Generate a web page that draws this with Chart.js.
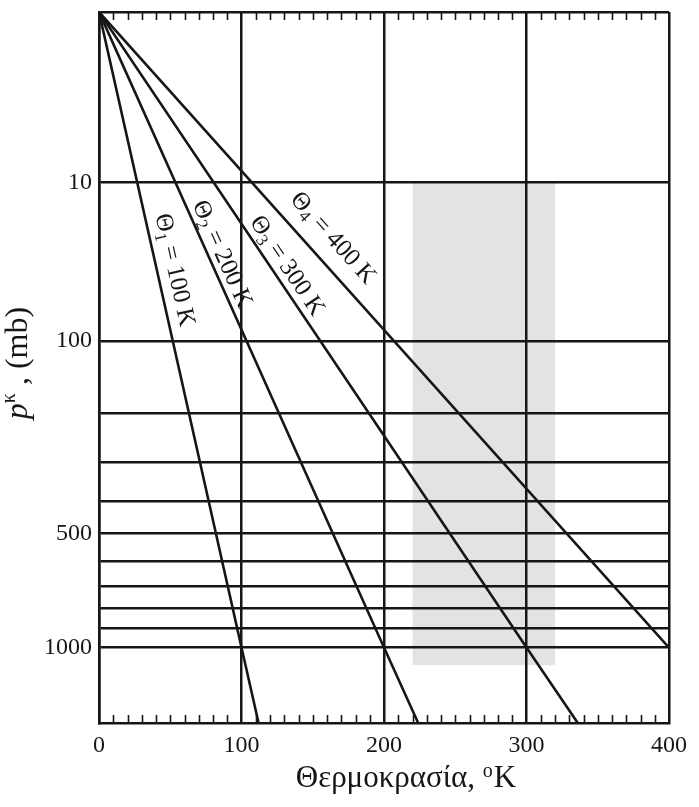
<!DOCTYPE html>
<html><head><meta charset="utf-8">
<script src="https://cdn.jsdelivr.net/npm/chart.js@4/dist/chart.umd.min.js"></script>
<style>html,body{margin:0;padding:0;background:#fff;}canvas{display:block;}</style>
</head><body>
<canvas id="c" width="699" height="807"></canvas>
<script>
// ---- data ----
const KAPPA = 0.286;                       // y axis is linear in p^kappa
const thetas = [100, 200, 300, 400];       // potential temperature of each line (K)
const lineSubs = ['1', '2', '3', '4'];
const topPressure = 0;                     // all lines start at T = 0, p = 0
const refPressure = 1000;                  // at 1000 mb, T = theta
const bottomPressure = 1480;               // lower edge of the diagram (mb)
const tempsAtBottom = [112, 224, 336, null]; // where lines leave the lower edge (K)
const xTickValues = [0, 100, 200, 300, 400];
const yTickPressures = [0, 10, 100, 200, 300, 400, 500, 600, 700, 800, 900, 1000];
const yTickLabels = ['', '10', '100', '', '', '', '500', '', '', '', '', '1000'];
const shadeTemps = [220, 320];             // grey band (K)
const shadePressures = [10, 1100];         // grey band (mb)
const labelPressures = [45, 37, 45, 34];   // where each line label sits along its line
const labelOffsets = [17, 13, 14, 23];     // distance of label from its line (px)
const xTitle = 'Θερμοκρασία, ';
const xTitleSup = 'o';
const xTitleEnd = 'K';

const pk = p => Math.pow(p, KAPPA);
const INK = '#161616';
const SERIF = '"Liberation Serif", "Times New Roman", serif';

const datasets = thetas.map((th, i) => {
  const pts = [{x: 0, y: pk(topPressure)}, {x: th, y: pk(refPressure)}];
  if (tempsAtBottom[i] !== null) pts.push({x: tempsAtBottom[i], y: pk(bottomPressure)});
  return {data: pts, borderColor: INK, borderWidth: 2.6, pointRadius: 0, fill: false, tension: 0};
});

const decor = {
  id: 'decor',
  beforeDraw(chart) {
    const {ctx, scales: {x, y}} = chart;
    const x0 = x.getPixelForValue(shadeTemps[0]), x1 = x.getPixelForValue(shadeTemps[1]);
    const y0 = y.getPixelForValue(pk(shadePressures[0])), y1 = y.getPixelForValue(pk(shadePressures[1]));
    ctx.save();
    ctx.fillStyle = '#e3e3e3';
    ctx.fillRect(x0, y0, x1 - x0, y1 - y0);
    ctx.restore();
  },
  afterDatasetsDraw(chart) {
    const {ctx, chartArea: ca, scales: {x, y}} = chart;
    ctx.save();
    // minor ticks every 10 K, top and bottom, pointing inward
    ctx.strokeStyle = INK; ctx.lineWidth = 1.6;
    for (let v = 10; v < 400; v += 10) {
      if (v % 100 === 0) continue;
      const px = Math.round(x.getPixelForValue(v)) + 0.5;
      ctx.beginPath();
      ctx.moveTo(px, ca.bottom); ctx.lineTo(px, ca.bottom - 8);
      ctx.moveTo(px, ca.top); ctx.lineTo(px, ca.top + 8);
      ctx.stroke();
    }
    // line labels
    ctx.fillStyle = INK;
    thetas.forEach((th, i) => {
      const ax = x.getPixelForValue(0), ay = y.getPixelForValue(pk(topPressure));
      const bx = x.getPixelForValue(th), by = y.getPixelForValue(pk(refPressure));
      const ang = Math.atan2(by - ay, bx - ax);
      const fy = y.getPixelForValue(pk(labelPressures[i]));
      const fx = ax + (fy - ay) / (by - ay) * (bx - ax);
      const cx = fx + labelOffsets[i] * Math.sin(ang);
      const cy = fy - labelOffsets[i] * Math.cos(ang);
      const parts = [
        {t: 'Θ', f: '25px ' + SERIF, dy: 0},
        {t: lineSubs[i], f: '17px ' + SERIF, dy: 7},
        {t: ' = ' + th + ' K', f: '25px ' + SERIF, dy: 0}
      ];
      let w = 0;
      parts.forEach(p => { ctx.font = p.f; p.w = ctx.measureText(p.t).width; w += p.w; });
      ctx.save();
      ctx.translate(cx, cy); ctx.rotate(ang);
      ctx.textBaseline = 'middle'; ctx.textAlign = 'left';
      let xx = -w / 2;
      parts.forEach(p => { ctx.font = p.f; ctx.fillText(p.t, xx, p.dy); xx += p.w; });
      ctx.restore();
    });
    // x axis title
    ctx.textBaseline = 'alphabetic'; ctx.textAlign = 'left';
    const f1 = '31px ' + SERIF, f2 = '20px ' + SERIF;
    ctx.font = f1; const w1 = ctx.measureText(xTitle).width, w3 = ctx.measureText(xTitleEnd).width;
    ctx.font = f2; const w2 = ctx.measureText(xTitleSup).width + 1;
    let sx = 406 - (w1 + w2 + w3) / 2; const by0 = 787;
    ctx.font = f1; ctx.fillText(xTitle, sx, by0); sx += w1;
    ctx.font = f2; ctx.fillText(xTitleSup, sx, by0 - 10); sx += w2;
    ctx.font = f1; ctx.fillText(xTitleEnd, sx, by0);
    // y axis title
    ctx.save();
    ctx.translate(27, 363); ctx.rotate(-Math.PI / 2);
    const yp = [
      {t: 'p', f: 'italic 32px ' + SERIF, dy: 0},
      {t: 'κ', f: '20px ' + SERIF, dy: -12},
      {t: ' , (mb)', f: '32px ' + SERIF, dy: 0}
    ];
    let yw = 0;
    yp.forEach(p => { ctx.font = p.f; p.w = ctx.measureText(p.t).width; yw += p.w; });
    let yx = -yw / 2;
    yp.forEach(p => { ctx.font = p.f; ctx.fillText(p.t, yx, p.dy); yx += p.w; });
    ctx.restore();
    ctx.restore();
  }
};

new Chart(document.getElementById('c'), {
  type: 'line',
  data: {datasets},
  plugins: [decor],
  options: {
    responsive: false,
    animation: false,
    devicePixelRatio: 1,
    layout: {padding: {top: 12, right: 30, left: 0, bottom: 0}},
    plugins: {legend: {display: false}, tooltip: {enabled: false}},
    scales: {
      x: {
        type: 'linear', min: 0, max: 400,
        afterBuildTicks: s => { s.ticks = xTickValues.map(v => ({value: v})); },
        afterFit: s => { s.height = 84; s.paddingLeft = 0; s.paddingRight = 0; },
        ticks: {color: INK, font: {family: SERIF, size: 24}, padding: 8, maxRotation: 0, autoSkip: false,
                callback: v => String(v)},
        grid: {color: INK, lineWidth: 2.5, drawTicks: false},
        border: {color: INK, width: 2.5}
      },
      y: {
        type: 'linear', reverse: true, min: 0, max: pk(bottomPressure),
        afterBuildTicks: s => { s.ticks = yTickPressures.map(p => ({value: pk(p)})); },
        afterFit: s => { s.width = 99; s.paddingTop = 0; s.paddingBottom = 0; },
        ticks: {color: INK, font: {family: SERIF, size: 24}, padding: 7, autoSkip: false,
                callback: (v, i) => yTickLabels[i]},
        grid: {color: INK, lineWidth: 2.5, drawTicks: false},
        border: {color: INK, width: 2.5}
      }
    }
  }
});
</script>
</body></html>
